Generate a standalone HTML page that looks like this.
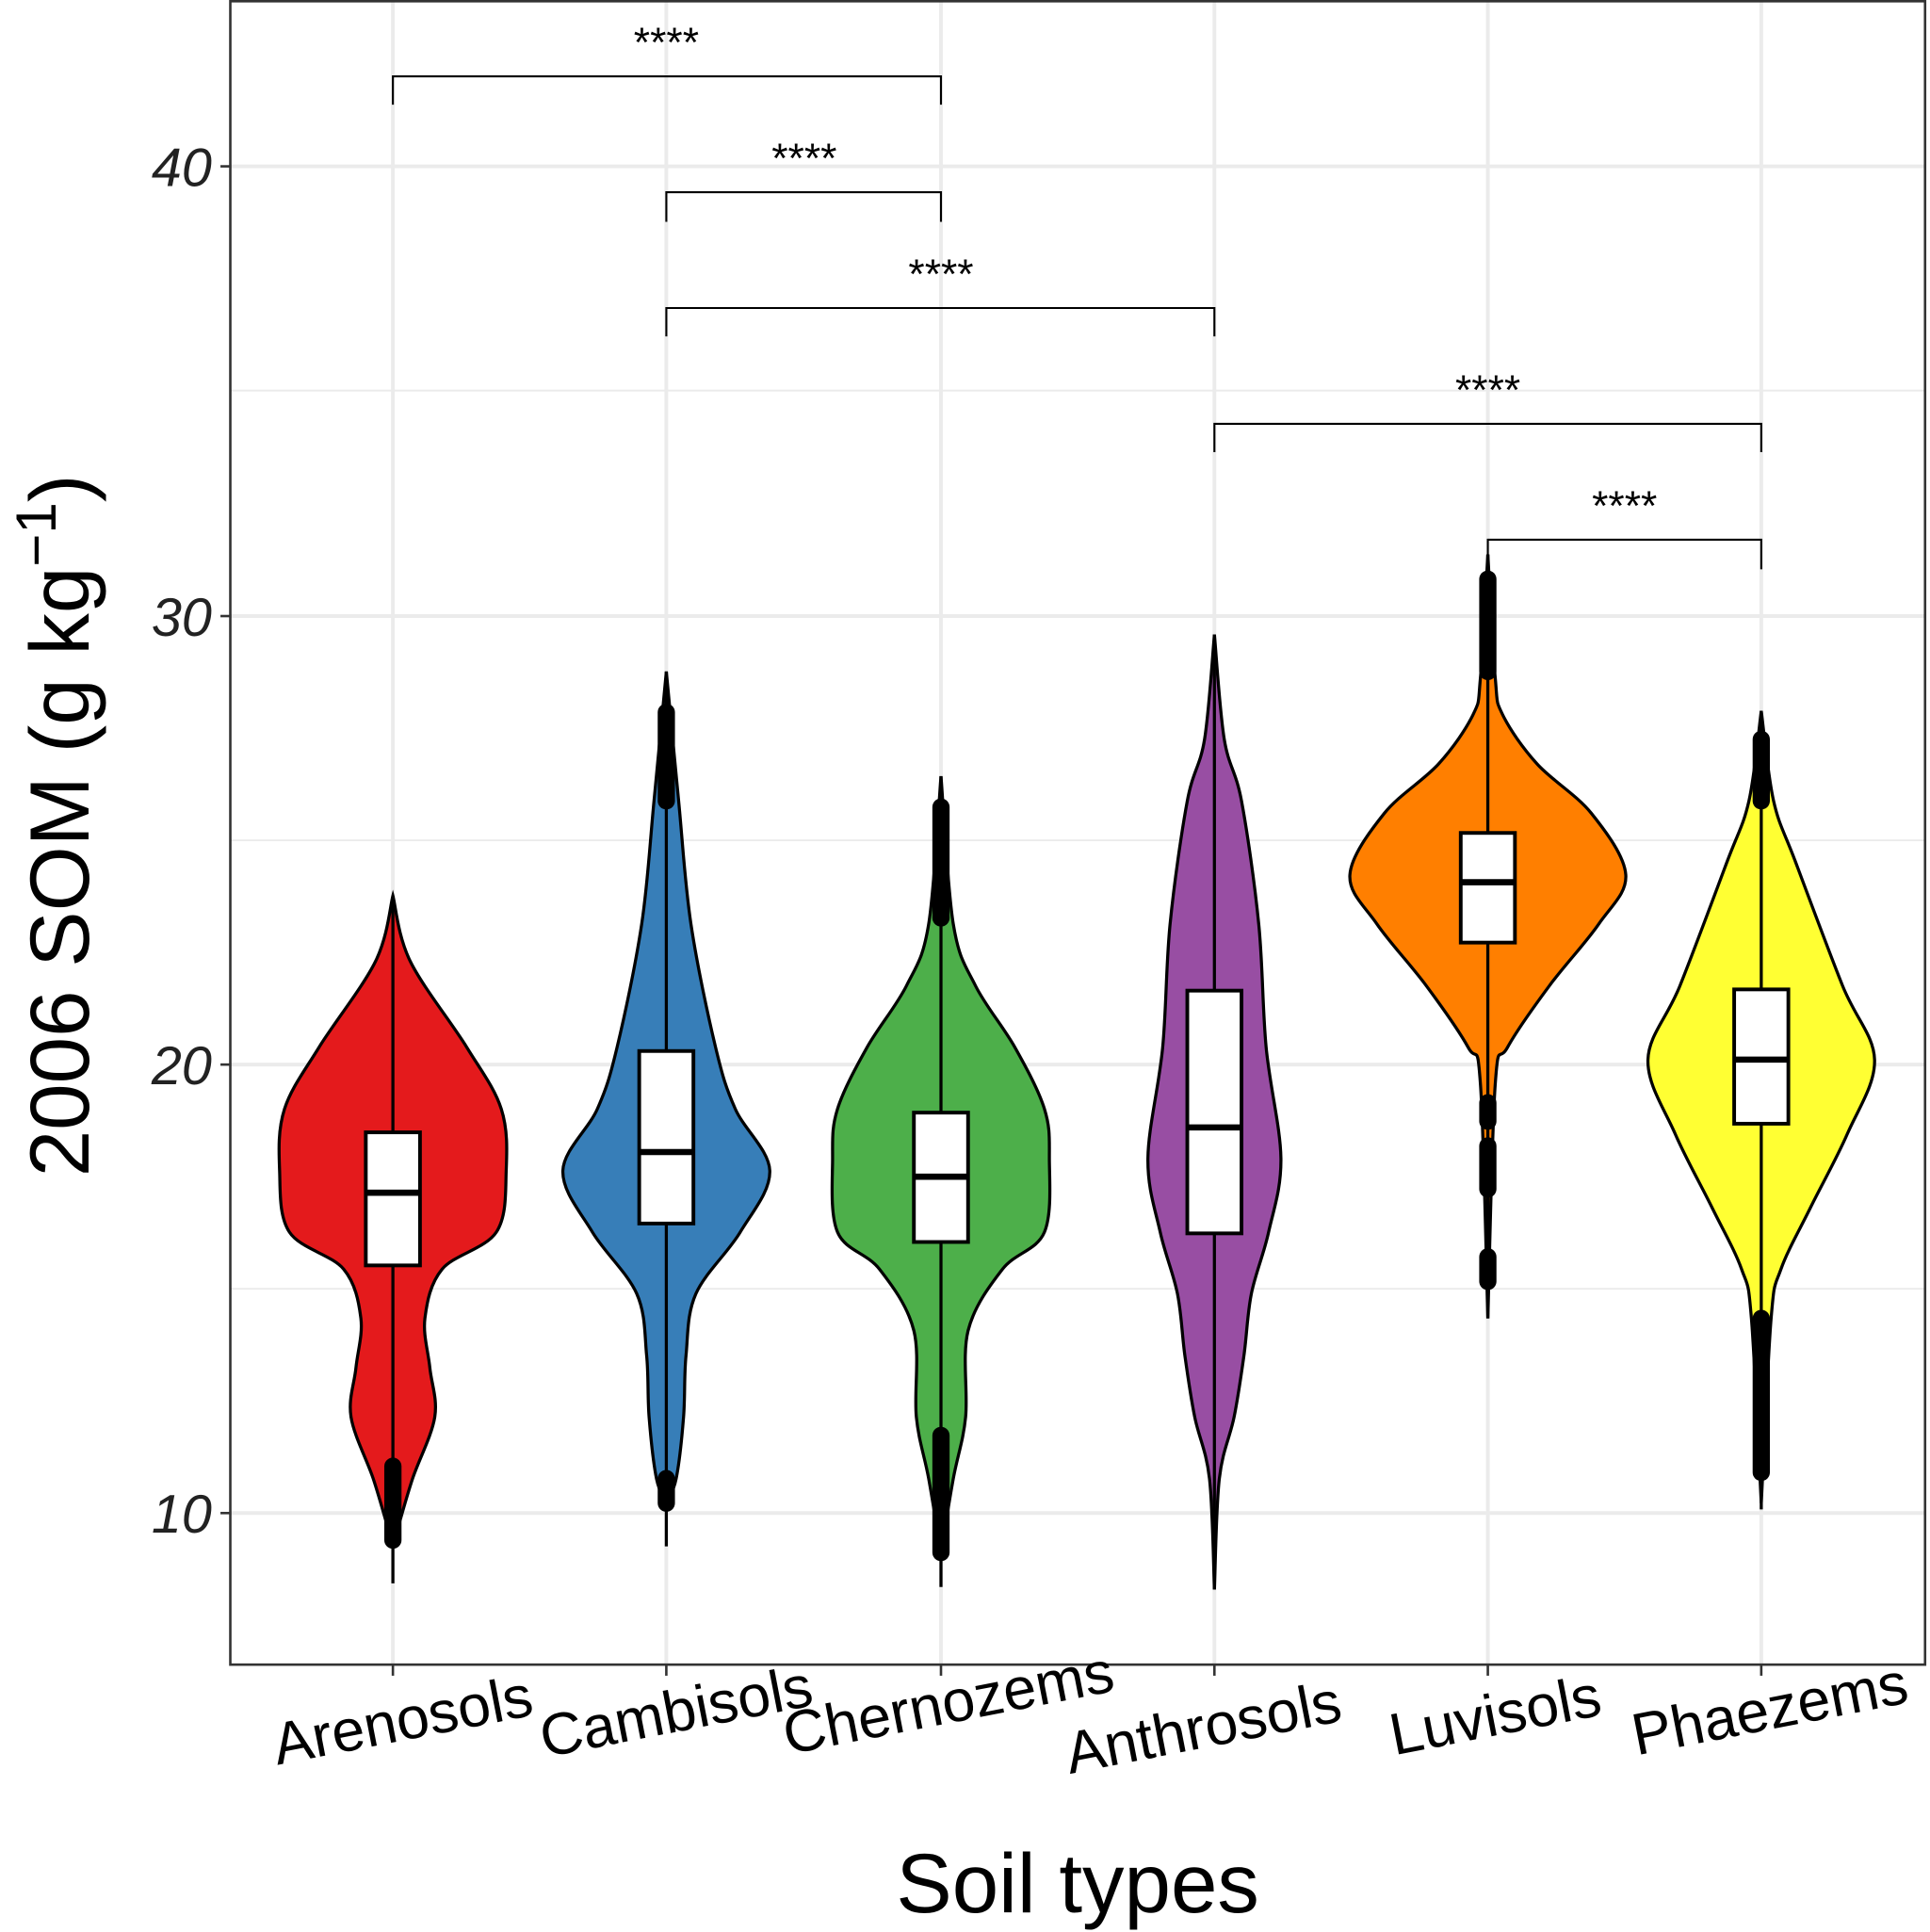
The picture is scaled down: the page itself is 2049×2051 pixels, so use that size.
<!DOCTYPE html>
<html><head><meta charset="utf-8"><style>
html,body{margin:0;padding:0;background:#fff}
svg{display:block}
text{font-family:"Liberation Sans",Arial,sans-serif}
</style></head><body>
<svg id="s" width="2049" height="2051" viewBox="0 0 1567 1568" preserveAspectRatio="none" xmlns="http://www.w3.org/2000/svg">
<rect x="0" y="0" width="1567" height="1568" fill="#fff"/>
<g stroke="#ebebeb" stroke-width="1.5">
<line x1="187" x2="1563" y1="317" y2="317"/><line x1="187" x2="1563" y1="682" y2="682"/><line x1="187" x2="1563" y1="1046" y2="1046"/>
</g>
<g stroke="#ebebeb" stroke-width="3">
<line x1="187" x2="1563" y1="135" y2="135"/><line x1="187" x2="1563" y1="500" y2="500"/><line x1="187" x2="1563" y1="864" y2="864"/><line x1="187" x2="1563" y1="1228" y2="1228"/>
<line x1="319" x2="319" y1="0" y2="1351"/><line x1="541" x2="541" y1="0" y2="1351"/><line x1="764" x2="764" y1="0" y2="1351"/><line x1="986" x2="986" y1="0" y2="1351"/><line x1="1208" x2="1208" y1="0" y2="1351"/><line x1="1430" x2="1430" y1="0" y2="1351"/>
</g>
<g id="v"></g>
<rect x="187" y="1" width="1376" height="1350" fill="none" stroke="#333" stroke-width="2"/>
<g stroke="#000" stroke-width="1.6" fill="none">
<polyline points="319,85 319,62 764,62 764,85"/>
<polyline points="541,180 541,156 764,156 764,180"/>
<polyline points="541,273 541,250 986,250 986,273"/>
<polyline points="986,367 986,344 1430,344 1430,367"/>
<polyline points="1208,462 1208,438 1430,438 1430,462"/>
</g>
<g font-size="34" text-anchor="middle" fill="#000">
<text x="541" y="46">****</text><text x="653" y="140">****</text><text x="764" y="234">****</text><text x="1208" y="328">****</text><text x="1319" y="422">****</text>
</g>
<g stroke="#333" stroke-width="2">
<line x1="179" x2="187" y1="135" y2="135"/><line x1="179" x2="187" y1="500" y2="500"/><line x1="179" x2="187" y1="864" y2="864"/><line x1="179" x2="187" y1="1228" y2="1228"/>
<line x1="319" x2="319" y1="1351" y2="1360"/><line x1="541" x2="541" y1="1351" y2="1360"/><line x1="764" x2="764" y1="1351" y2="1360"/><line x1="986" x2="986" y1="1351" y2="1360"/><line x1="1208" x2="1208" y1="1351" y2="1360"/><line x1="1430" x2="1430" y1="1351" y2="1360"/>
</g>
<g font-size="44" font-style="italic" text-anchor="end" fill="#222">
<text x="172" y="151">40</text><text x="172" y="516">30</text><text x="172" y="880">20</text><text x="172" y="1244">10</text>
</g>
<g font-size="48" text-anchor="middle" fill="#000">
<text transform="translate(330,1412) rotate(-11)">Arenosols</text>
<text transform="translate(552,1405) rotate(-11)">Cambisols</text>
<text transform="translate(773,1398) rotate(-11)">Chernozems</text>
<text transform="translate(980,1418) rotate(-11)">Anthrosols</text>
<text transform="translate(1217,1408) rotate(-11)">Luvisols</text>
<text transform="translate(1440,1403) rotate(-11)">Phaezems</text>
</g>
<text x="875" y="1552" font-size="68" text-anchor="middle">Soil types</text>
<text transform="translate(72,670) rotate(-90)" font-size="68" text-anchor="middle">2006  SOM (g kg<tspan font-size="46" dy="-27">−1</tspan><tspan dy="27">)</tspan></text>
</svg>
<script>
var V=[
{x:319,c:"#e41a1c",p:[[727,0],[780,7],[850,30],[900,44],[950,46],[1000,42],[1030,20],[1070,13],[1110,15],[1150,17],[1200,8],[1240,2],[1250,0]],b:[919,1027,968],w:[727,1285],o:[[1190,1250]]},
{x:541,c:"#377eb8",p:[[545,0],[650,5],[750,10],[850,20],[900,28],[950,42],[1000,30],[1050,12],[1100,8],[1150,7],[1200,4],[1220,0]],b:[853,993,935],w:[545,1255],o:[[578,650],[1200,1220]]},
{x:764,c:"#4daf4a",p:[[630,0],[750,5],[800,14],[850,30],[900,42],[940,44],[1000,42],[1030,25],[1080,11],[1150,10],[1200,5],[1260,0]],b:[903,1008,955],w:[630,1288],o:[[655,745],[1165,1260]]},
{x:986,c:"#984ea3",p:[[515,0],[600,4],[650,11],[750,18],[850,21],[940,27],[1000,22],[1050,15],[1100,12],[1150,8],[1200,2],[1290,0]],b:[804,1001,915],w:[515,1290],o:[]},
{x:1208,c:"#ff7f00",p:[[450,0],[550,3],[580,6],[620,20],[660,42],[710,56],[750,45],[800,25],[850,8],[880,3],[1070,0]],b:[676,765,716],w:[450,1070],o:[[470,545],[895,910],[930,965],[1020,1040]]},
{x:1430,c:"#ffff33",p:[[577,0],[650,5],[700,14],[800,33],[860,46],[920,35],[980,20],[1030,8],[1070,4],[1220,0]],b:[803,912,860],w:[577,1225],o:[[600,650],[1070,1195]]}];
function cr(pts){var d="M"+pts[0][0]+","+pts[0][1];for(var i=0;i<pts.length-1;i++){var p0=pts[i-1]||pts[i],p1=pts[i],p2=pts[i+1],p3=pts[i+2]||p2;d+=" C"+(p1[0]+(p2[0]-p0[0])/6)+","+(p1[1]+(p2[1]-p0[1])/6)+" "+(p2[0]-(p3[0]-p1[0])/6)+","+(p2[1]-(p3[1]-p1[1])/6)+" "+p2[0]+","+p2[1];}return d;}
var h="";V.forEach(function(v){var R=v.p.map(function(q){return[v.x+2*q[1],q[0]]});var L=v.p.slice().reverse().map(function(q){return[v.x-2*q[1],q[0]]});
h+='<path d="'+cr(R)+' L'+cr(L).slice(1)+' Z" fill="'+v.c+'" stroke="#000" stroke-width="2.5"/>';
h+='<line x1="'+v.x+'" x2="'+v.x+'" y1="'+v.w[0]+'" y2="'+v.w[1]+'" stroke="#000" stroke-width="2.5"/>';
v.o.forEach(function(o){h+='<line x1="'+v.x+'" x2="'+v.x+'" y1="'+o[0]+'" y2="'+o[1]+'" stroke="#000" stroke-width="14" stroke-linecap="round"/>';});
h+='<rect x="'+(v.x-22)+'" y="'+v.b[0]+'" width="44" height="'+(v.b[1]-v.b[0])+'" fill="#fff" stroke="#000" stroke-width="3"/>';
h+='<line x1="'+(v.x-22)+'" x2="'+(v.x+22)+'" y1="'+v.b[2]+'" y2="'+v.b[2]+'" stroke="#000" stroke-width="5"/>';});
document.getElementById("v").innerHTML=h;
</script>
</body></html>
